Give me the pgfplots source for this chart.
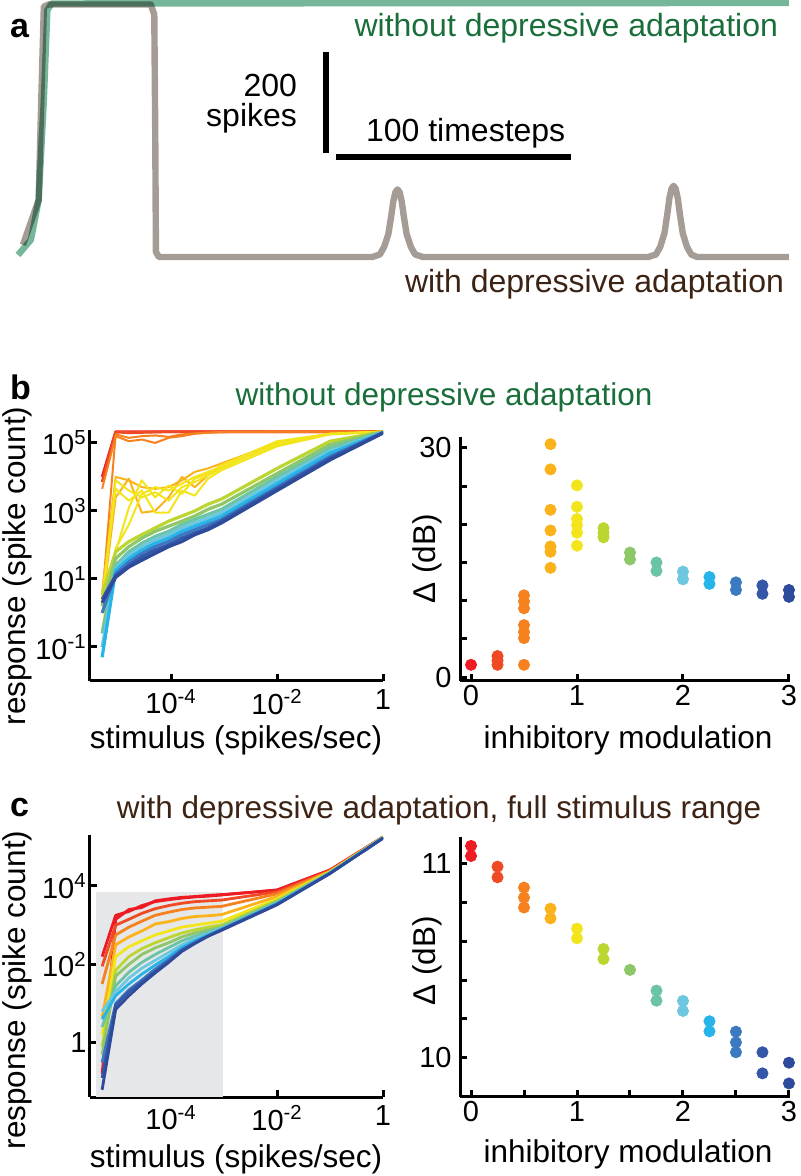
\documentclass[border=0pt]{standalone}
\usepackage{fontspec}
\setmainfont{Liberation Sans}
\usepackage{pgfplots}
\usepackage{pgfplotstable}
\pgfplotsset{compat=1.18}

% jet-like colours, inhibitory modulation 0, 0.25, ..., 3
\definecolor{c0}{HTML}{ED1C24}
\definecolor{c1}{HTML}{EF4A24}
\definecolor{c2}{HTML}{F6821F}
\definecolor{c3}{HTML}{FBB21B}
\definecolor{c4}{HTML}{F3E51C}
\definecolor{c5}{HTML}{BCD631}
\definecolor{c6}{HTML}{8DC76A}
\definecolor{c7}{HTML}{6BC4A6}
\definecolor{c8}{HTML}{6DC8DF}
\definecolor{c9}{HTML}{27B4E9}
\definecolor{c10}{HTML}{3B79C1}
\definecolor{c11}{HTML}{3557A7}
\definecolor{c12}{HTML}{2E4B9B}
\definecolor{trgray}{HTML}{A69C96}
\definecolor{trgreen}{HTML}{76B69B}
\definecolor{titgreen}{HTML}{1A6E3A}
\definecolor{titbrown}{HTML}{3D2314}
\definecolor{shade}{HTML}{E6E7E8}

\newcommand\lab{\fontsize{15.75}{18}\selectfont}
\newcommand\pan{\fontsize{17}{19}\selectfont\bfseries}

% panel b, left: response vs stimulus, no adaptation
\pgfplotstableread{
x      r0     r1     o1     o2     z1     z2     z3     z4     z5     z6     g5     g6     g7     g8     g9     g10    g11    g12
5e-6   1e4    7.08e3 4.47e3 2.51   3.98   1.58   1.0    2.51   0.316  2.0    3.55   1.58   0.251  0.1    0.05   1.0    2.51   2.0
9e-6   2.14e5 2.09e5 1.58e5 1.78e5 1e4    2.51e3 63.1   4.47e3 79.4   7.94e3 63.1   39.8   25.1   20.0   17.8   14.1   12.6   11.2
1.6e-5 2.14e5 2.0e5  1.12e5 1.41e5 7.94e3 8.91e3 1.26e3 2.0e3  398    3.98e3 126    89.1   63.1   50.1   39.8   31.6   25.1   22.4
2.8e-5 2.14e5 2.04e5 1.26e5 1.58e5 5.01e3 891    7.94e3 3.98e3 3.16e3 2.51e3 200    158    112    89.1   70.8   56.2   44.7   35.5
5e-5   2.14e5 2.09e5 1.0e5  1.66e5 4.47e3 1e3    2.51e3 891    5.01e3 3.55e3 316    251    178    141    112    89.1   70.8   56.2
9e-5   2.14e5 2.14e5 1.41e5 1.51e5 5.01e3 2.51e3 5.62e3 891    3.98e3 2.0e3  501    355    251    200    158    126    100    89.1
1.6e-4 2.14e5 2.14e5 1.58e5 1.78e5 7.94e3 1e4    3.16e3 3.98e3 6.31e3 5.01e3 708    501    398    316    251    200    158    126
2.8e-4 2.14e5 2.14e5 1.86e5 1.91e5 1.41e4 5.01e3 8.91e3 2.82e3 1e4    7.08e3 1e3    708    562    447    355    282    224    200
5e-4   2.14e5 2.14e5 2.0e5  2.0e5  1.78e4 1.12e4 1.26e4 8.91e3 1.41e4 1.12e4 1.58e3 1.12e3 794    631    501    398    316    282
9e-4   2.14e5 2.14e5 2.09e5 2.09e5 2.51e4 2.0e4  2.24e4 1.58e4 2.0e4  1.78e4 2.24e3 1.58e3 1.12e3 891    708    562    501    447
1e-2   2.14e5 2.14e5 2.14e5 2.14e5 1e5    8.91e4 1.12e5 7.94e4 8.91e4 1e5    1.78e4 1.26e4 1e4    7.94e3 6.31e3 5.01e3 4.47e3 3.98e3
1e-1   2.14e5 2.14e5 2.14e5 2.14e5 1.86e5 1.82e5 1.86e5 1.78e5 1.86e5 1.82e5 1.12e5 8.91e4 7.08e4 5.62e4 5.01e4 3.98e4 3.55e4 3.16e4
1      2.14e5 2.14e5 2.14e5 2.14e5 2.14e5 2.14e5 2.14e5 2.14e5 2.14e5 2.14e5 2.14e5 2.09e5 2.09e5 2.04e5 2.0e5  2.0e5  2.0e5  1.95e5
}\tabB

% panel c, left: response vs stimulus, with adaptation
\pgfplotstableread{
x      c0a    c0b    c1     c2     c3     c4     c5     c6     c7     c8     c9     c10    c11    c12
5e-6   158    0.158  89.1   31.6   4.47   1.58   0.794  0.5    2.51   6.31   3.98   0.316  0.126  0.063
9e-6   1.78e3 1.41e3 1e3    562    316    158    70.8   50.1   28.2   20.0   15.8   10     8.91   7.08
1.6e-5 2.24e3 2.51e3 1.41e3 891    501    282    158    100    63.1   44.7   31.6   22.4   20.0   15.8
2.8e-5 3.16e3 2.82e3 2.0e3  1.26e3 708    398    251    178    112    79.4   56.2   39.8   35.5   31.6
5e-5   3.98e3 4.17e3 2.63e3 1.78e3 1.07e3 562    355    263    178    126    95.5   75.9   66.1   60.3
9e-5   4.47e3 4.68e3 3.16e3 2.14e3 1.23e3 708    479    355    269    200    158    132    120    112
1.6e-4 4.90e3 5.13e3 3.63e3 2.51e3 1.48e3 891    631    501    398    316    269    240    224    214
2.8e-4 5.25e3 5.37e3 3.98e3 2.75e3 1.66e3 1e3    759    631    525    447    398    363    347    339
5e-4   5.50e3 5.75e3 4.17e3 2.88e3 1.74e3 1.12e3 891    759    661    603    562    537    525    525
9e-4   5.89e3 6.03e3 4.37e3 3.02e3 1.86e3 1.26e3 1.02e3 912    851    832    794    776    759    741
1e-2   7.94e3 7.76e3 7.08e3 6.31e3 5.37e3 4.68e3 4.27e3 3.98e3 3.80e3 3.63e3 3.55e3 3.47e3 3.39e3 3.31e3
1e-1   2.57e4 2.51e4 2.45e4 2.40e4 2.34e4 2.29e4 2.24e4 2.19e4 2.19e4 2.14e4 2.14e4 2.09e4 2.09e4 2.09e4
1      1.78e5 1.78e5 1.78e5 1.78e5 1.78e5 1.74e5 1.74e5 1.74e5 1.74e5 1.70e5 1.70e5 1.66e5 1.66e5 1.66e5
}\tabC

\pgfplotsset{
  baseax/.style={scale only axis, axis lines*=left, axis line style={-, line width=1.5pt},
    tick align=inside, major tick length=3.5pt, tick style={line width=1.5pt, black},
    minor tick style={draw=none},
    tick label style={font=\fontsize{14.5}{16}\selectfont}},
  stimax/.style={baseax, width=146.5pt, xmin=2.95e-6, xmax=1,
    xtick={1e-4,1e-2,1},
    xticklabels={10\textsuperscript{-4},10\textsuperscript{-2},1},
    xticklabel style={inner sep=1pt, yshift=-3pt},
    yticklabel style={inner sep=1.5pt},
    every axis plot/.append style={line width=1pt, line join=round}},
  dotax/.style={baseax, width=165pt, xmin=-0.104, xmax=3.01,
    xticklabel style={inner sep=2pt},
    yticklabel style={inner sep=4pt}, clip=false,
    every axis plot/.append style={only marks, mark=*, mark size=2.8pt}},
  band/.style={line width=1.6pt},
  bundle/.style={line width=1.4pt},
}

\begin{document}
\begin{tikzpicture}
\path[use as bounding box] (0,0) rectangle (400pt,588pt);

% ---------- a: spike traces ----------
\begin{axis}[hide axis, scale only axis, width=400pt, height=150pt,
  at={(0pt,438pt)}, anchor=south west, clip=false,
  xmin=-7.66, xmax=332.8, ymin=-85.1, ymax=508.9]
\addplot[trgray, line width=3.2pt, line join=round] coordinates {
  (2.1,24) (8.8,113) (9.9,311) (11.0,496) (13.2,500) (56.5,500) (58.0,480)
  (58.4,250) (58.7,10) (60,0) (150.7,0) (154,5) (155.8,20) (157.6,45)
  (158.8,80) (159.7,110) (160.6,128) (161.5,134) (162.4,128) (163.3,110)
  (164.2,80) (165.4,45) (167.2,20) (169,5) (172.3,0)
  (268.2,0) (271.5,5) (273.3,20) (275.1,47) (276.3,84) (277.2,116) (278.1,135)
  (279.0,141) (279.9,135) (280.8,116) (281.7,84) (282.9,47) (284.7,20)
  (286.5,5) (289.0,0) (328.1,0)};
\addplot[trgreen, line width=3.2pt, line join=round, /tikz/blend mode=multiply] coordinates {
  (0,4) (5.5,34) (8.8,113) (11.0,311) (12.5,489) (14.3,502) (328.1,503)};
\draw[line width=3pt] (axis cs:131.1,406) -- (axis cs:131.1,206);
\draw[line width=3pt] (axis cs:135.3,198) -- (axis cs:235.3,198);
\end{axis}
\node[anchor=base west, font=\pan] at (1.5pt,569pt) {a};
\node[anchor=base east, font=\fontsize{16}{18}\selectfont, text=titgreen] at (392.5pt,569.5pt) {without depressive adaptation};
\node[anchor=base east, font=\fontsize{16}{18}\selectfont, text=titbrown] at (395.5pt,441.5pt) {with depressive adaptation};
\node[anchor=base east, font=\fontsize{16}{18}\selectfont] at (152pt,539.5pt) {200};
\node[anchor=base east, font=\fontsize{16}{18}\selectfont] at (152pt,524.5pt) {spikes};
\node[anchor=base west, font=\fontsize{16}{18}\selectfont] at (179.5pt,517pt) {100 timesteps};

% ---------- b ----------
\node[anchor=base west, font=\pan] at (1.5pt,388pt) {b};
\node[anchor=base, font=\lab, text=titgreen] at (222pt,385pt) {without depressive adaptation};

\begin{axis}[stimax, xmode=log, ymode=log, height=125.5pt, at={(45pt,247.5pt)}, anchor=south west,
  ymin=1e-2, ymax=2.4e5, ytick={1e-1,1e1,1e3,1e5},
  yticklabels={10\textsuperscript{-1},10\textsuperscript{1},10\textsuperscript{3},10\textsuperscript{5}}]
\addplot[c0, bundle] table[x=x, y=r0] {\tabB};
\addplot[c1, bundle] table[x=x, y=r1] {\tabB};
\addplot[c2] table[x=x, y=o1] {\tabB};
\addplot[c2] table[x=x, y=o2] {\tabB};
\addplot[c3] table[x=x, y=z1] {\tabB};
\addplot[c3] table[x=x, y=z2] {\tabB};
\addplot[c4] table[x=x, y=z3] {\tabB};
\addplot[c4] table[x=x, y=z4] {\tabB};
\addplot[c4] table[x=x, y=z5] {\tabB};
\addplot[c4] table[x=x, y=z6] {\tabB};
\addplot[c5, band] table[x=x, y=g5] {\tabB};
\addplot[c6, band] table[x=x, y=g6] {\tabB};
\addplot[c7, band] table[x=x, y=g7] {\tabB};
\addplot[c8, band] table[x=x, y=g8] {\tabB};
\addplot[c9, band] table[x=x, y=g9] {\tabB};
\addplot[c10, band] table[x=x, y=g10] {\tabB};
\addplot[c11, band] table[x=x, y=g11] {\tabB};
\addplot[c12, band] table[x=x, y=g12] {\tabB};
\end{axis}

\begin{axis}[dotax, height=122pt, at={(230pt,247.5pt)}, anchor=south west,
  ymin=-0.52, ymax=31.44, xtick={0,1,2,3}, xticklabels={0,1,2,3},
  ytick={0,5,10,15,20,25,30}, yticklabels={0,,,,,,30}]
\addplot[c0] coordinates {(0,1.6)};
\addplot[c1] coordinates {(0.25,2.75) (0.25,2.15) (0.25,1.6)};
\addplot[c2] coordinates {(0.5,10.7) (0.5,9.9) (0.5,9.0) (0.5,6.8) (0.5,5.9) (0.5,5.1) (0.5,1.6)};
\addplot[c3] coordinates {(0.75,30.5) (0.75,27.2) (0.75,21.9) (0.75,19.2) (0.75,17.1) (0.75,16.4) (0.75,14.3)};
\addplot[c4] coordinates {(1,25.1) (1,22.3) (1,20.7) (1,19.9) (1,18.9) (1,17.2)};
\addplot[c5] coordinates {(1.25,19.5) (1.25,18.9) (1.25,18.3)};
\addplot[c6] coordinates {(1.5,16.3) (1.5,15.4)};
\addplot[c7] coordinates {(1.75,15.0) (1.75,13.9)};
\addplot[c8] coordinates {(2,13.8) (2,12.8)};
\addplot[c9] coordinates {(2.25,13.1) (2.25,12.2)};
\addplot[c10] coordinates {(2.5,12.4) (2.5,11.4)};
\addplot[c11] coordinates {(2.75,12.0) (2.75,10.9)};
\addplot[c12] coordinates {(3,11.4) (3,10.5)};
\end{axis}

\node[rotate=90, font=\lab] at (8.5pt,305pt) {response (spike count)};
\node[rotate=90, font=\lab] at (213.5pt,308.5pt) {Δ (dB)};
\node[anchor=base, font=\lab] at (118pt,213.5pt) {stimulus (spikes/sec)};
\node[anchor=base, font=\lab] at (314pt,213.5pt) {inhibitory modulation};

% ---------- c ----------
\node[anchor=base west, font=\pan] at (1.5pt,179.5pt) {c};
\node[anchor=base, font=\lab, text=titbrown] at (219.5pt,178.5pt) {with depressive adaptation, full stimulus range};

\begin{axis}[stimax, xmode=log, ymode=log, height=131pt, at={(45pt,39.5pt)}, anchor=south west,
  ymin=0.0412, ymax=2.0e5, ytick={1,1e2,1e4},
  yticklabels={1,10\textsuperscript{2},10\textsuperscript{4}},
  every axis plot/.append style={line width=1.4pt}]
\addplot[fill=shade, draw=none] coordinates {
  (3.85e-6,0.0412) (9.5e-4,0.0412) (9.5e-4,7.08e3) (3.85e-6,7.08e3)} -- cycle;
\addplot[c0] table[x=x, y=c0a] {\tabC};
\addplot[c0] table[x=x, y=c0b] {\tabC};
\addplot[c1] table[x=x, y=c1] {\tabC};
\addplot[c2] table[x=x, y=c2] {\tabC};
\addplot[c3] table[x=x, y=c3] {\tabC};
\addplot[c4] table[x=x, y=c4] {\tabC};
\addplot[c5] table[x=x, y=c5] {\tabC};
\addplot[c6] table[x=x, y=c6] {\tabC};
\addplot[c7] table[x=x, y=c7] {\tabC};
\addplot[c8] table[x=x, y=c8] {\tabC};
\addplot[c9] table[x=x, y=c9] {\tabC};
\addplot[c10] table[x=x, y=c10] {\tabC};
\addplot[c11] table[x=x, y=c11] {\tabC};
\addplot[c12] table[x=x, y=c12] {\tabC};
\end{axis}

\begin{axis}[dotax, height=130pt, at={(230pt,39.5pt)}, anchor=south west,
  ymin=9.797, ymax=11.139, xtick={0,0.5,1,1.5,2,2.5,3}, xticklabels={0,,1,,2,,3},
  ytick={10,10.2,10.4,10.6,10.8,11}, yticklabels={10,,,,,11}]
\addplot[c0] coordinates {(0,11.093) (0,11.041)};
\addplot[c1] coordinates {(0.25,10.986) (0.25,10.931)};
\addplot[c2] coordinates {(0.5,10.878) (0.5,10.826) (0.5,10.775)};
\addplot[c3] coordinates {(0.75,10.769) (0.75,10.719)};
\addplot[c4] coordinates {(1,10.666) (1,10.616)};
\addplot[c5] coordinates {(1.25,10.561) (1.25,10.509)};
\addplot[c6] coordinates {(1.5,10.453)};
\addplot[c7] coordinates {(1.75,10.346) (1.75,10.294)};
\addplot[c8] coordinates {(2,10.293) (2,10.241)};
\addplot[c9] coordinates {(2.25,10.188) (2.25,10.136)};
\addplot[c10] coordinates {(2.5,10.134) (2.5,10.079) (2.5,10.028)};
\addplot[c11] coordinates {(2.75,10.028) (2.75,9.919)};
\addplot[c12] coordinates {(3,9.974) (3,9.867)};
\end{axis}

\node[rotate=90, font=\lab] at (8.5pt,93pt) {response (spike count)};
\node[rotate=90, font=\lab] at (213.5pt,107.5pt) {Δ (dB)};
\node[anchor=base, font=\lab] at (118pt,4.5pt) {stimulus (spikes/sec)};
\node[anchor=base, font=\lab] at (314pt,6.5pt) {inhibitory modulation};
\end{tikzpicture}
\end{document}
